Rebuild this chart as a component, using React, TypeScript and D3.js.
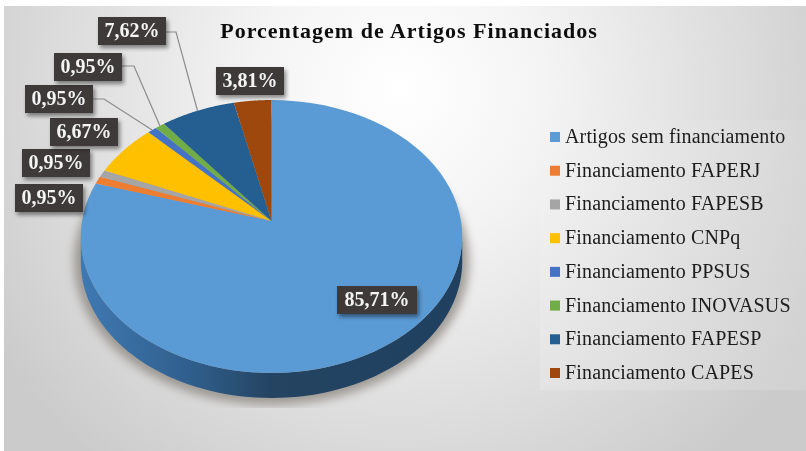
import React from 'react';
import * as d3 from 'd3';

const categories = ['Artigos sem financiamento', 'Financiamento FAPERJ', 'Financiamento FAPESB', 'Financiamento CNPq', 'Financiamento PPSUS', 'Financiamento INOVASUS', 'Financiamento FAPESP', 'Financiamento CAPES'];
const values = [85.71, 0.95, 0.95, 6.67, 0.95, 0.95, 7.62, 3.81];
const colors = ['#5b9bd5', '#ed7d31', '#a5a5a5', '#ffc000', '#4472c4', '#70ad47', '#255e91', '#9e480e'];
const valueLabels = ['85,71%', '0,95%', '0,95%', '6,67%', '0,95%', '0,95%', '7,62%', '3,81%'];

// label box top-left corners, same order as categories
const labelBoxes = [[337, 286], [15, 184], [22, 149], [50, 118], [25, 85], [54, 53], [98, 17], [216, 67]];
const boxW = 68;
const boxH = 28;

// leader lines only on the three small slices at the top
const leaders: Record<number, { from: number[]; bend: number[] }> = {
  4: { from: [93, 99], bend: [104, 99] },
  5: { from: [122, 66], bend: [134, 66] },
  6: { from: [166, 32], bend: [176, 32] },
};

// pie is tilted, so the top face is a circle seen through a perspective
const cx = 271.5;
const apexY = 221;
const persp = -0.1136;
const spreadY = 109.6;
const spreadX = 189.5;
const depth = 25;

const project = (a: number) => {
  const u = Math.sin(a);
  const v = -Math.cos(a);
  const w = 1 + persp * v;
  return [cx + (spreadX * u) / w, (apexY + spreadY * v) / w];
};

const pieAngles = d3.pie<number>().sort(null)(values);
const line = d3.line();

const rimPoints = (start: number, end: number) =>
  d3.range(0, 81).map((i) => project(start + ((end - start) * i) / 80) as [number, number]);

const slices = pieAngles.map((p) => {
  const rim = rimPoints(p.startAngle, p.endAngle);
  return line([[cx, apexY], ...rim]) + 'Z';
});

// side wall: visible part of the rim, from the right extreme round the bottom to the left extreme
const wallTop = rimPoints(Math.PI / 2 + 0.11, (3 * Math.PI) / 2 - 0.11);
const wallPath =
  line([...wallTop, ...[...wallTop].reverse().map((d) => [d[0], d[1] + depth] as [number, number])]) + 'Z';
const fullRim = rimPoints(0, 2 * Math.PI);
const shadowPath = line(fullRim.map((d) => [d[0], d[1] + depth] as [number, number])) + 'Z';

const legendY = d3.scalePoint<string>().domain(categories).range([137, 373]);

export default function App() {
  return (
    <svg width={806} height={451} style={{ position: 'absolute', left: 0, top: 0 }}>
      <defs>
        <radialGradient id="bg" gradientUnits="userSpaceOnUse" cx="400" cy="90" r="480">
          <stop offset="0" stopColor="#ffffff" />
          <stop offset="0.3" stopColor="#f4f4f4" />
          <stop offset="1" stopColor="#cbcbcb" />
        </radialGradient>
        <linearGradient id="wall" gradientUnits="userSpaceOnUse" x1="82" x2="460" y1="0" y2="0">
          <stop offset="0" stopColor="#3f79b2" />
          <stop offset="0.3" stopColor="#2f5d8a" />
          <stop offset="0.5" stopColor="#244462" />
          <stop offset="1" stopColor="#204060" />
        </linearGradient>
        <linearGradient id="legendBg" x1="0" x2="1" y1="0" y2="0">
          <stop offset="0" stopColor="#f2f2f2" stopOpacity={0.3} />
          <stop offset="1" stopColor="#dddddd" stopOpacity={0.35} />
        </linearGradient>
        <filter id="soft" x="-20%" y="-20%" width="140%" height="140%">
          <feGaussianBlur stdDeviation="5" />
        </filter>
        <filter id="boxShadow" x="-30%" y="-30%" width="160%" height="160%">
          <feGaussianBlur stdDeviation="2" />
        </filter>
        <filter id="blurText" x="-10%" y="-10%" width="120%" height="120%">
          <feGaussianBlur stdDeviation="0.5" />
        </filter>
        <clipPath id="shadowClip">
          <rect x={0} y={0} width={806} height={408} />
        </clipPath>
      </defs>
      <rect width={806} height={451} fill="#ffffff" />
      <rect x={4} y={6} width={802} height={445} fill="url(#bg)" />

      <g clipPath="url(#shadowClip)">
        <path d={shadowPath} fill="#8f8a84" stroke="#8f8a84" strokeWidth={14} opacity={0.8} filter="url(#soft)" />
      </g>
      <path d={wallPath} fill="url(#wall)" />
      {slices.map((d, i) => (
        <path key={categories[i]} d={d} fill={colors[i]} />
      ))}

      <text x={409} y={38} textAnchor="middle" fontFamily="Liberation Serif" fontWeight={700} fontSize={22} letterSpacing={1} fill="#111" filter="url(#blurText)">
        Porcentagem de Artigos Financiados
      </text>

      {pieAngles.map((p, i) => {
        const lead = leaders[i];
        if (!lead) return null;
        const mid = project((p.startAngle + p.endAngle) / 2);
        return <polyline key={i} points={[lead.from, lead.bend, mid].map((d) => d.join(',')).join(' ')} fill="none" stroke="#8c8c8c" strokeWidth={1.2} />;
      })}

      {valueLabels.map((t, i) => {
        const [x, y] = labelBoxes[i];
        const w = i === 0 ? 80 : boxW;
        return (
          <g key={i}>
            <rect x={x + 2} y={y + 3} width={w} height={boxH} fill="#000" opacity={0.45} filter="url(#boxShadow)" />
            <rect x={x} y={y} width={w} height={boxH} fill="#3d3a39" />
            <text x={x + w / 2} y={y + 20} textAnchor="middle" fontFamily="Liberation Serif" fontWeight={700} fontSize={20} fill="#f4f4f4" filter="url(#blurText)">
              {t}
            </text>
          </g>
        );
      })}

      <rect x={540} y={120} width={266} height={270} fill="url(#legendBg)" />
      {categories.map((c, i) => {
        const y = legendY(c) as number;
        return (
          <g key={c}>
            <rect x={550} y={y - 5} width={10} height={10} fill={colors[i]} />
            <text x={565} y={y + 6} fontFamily="Liberation Serif" fontSize={20} letterSpacing={0.15} fill="#1c1c1c" filter="url(#blurText)">
              {c}
            </text>
          </g>
        );
      })}
    </svg>
  );
}
